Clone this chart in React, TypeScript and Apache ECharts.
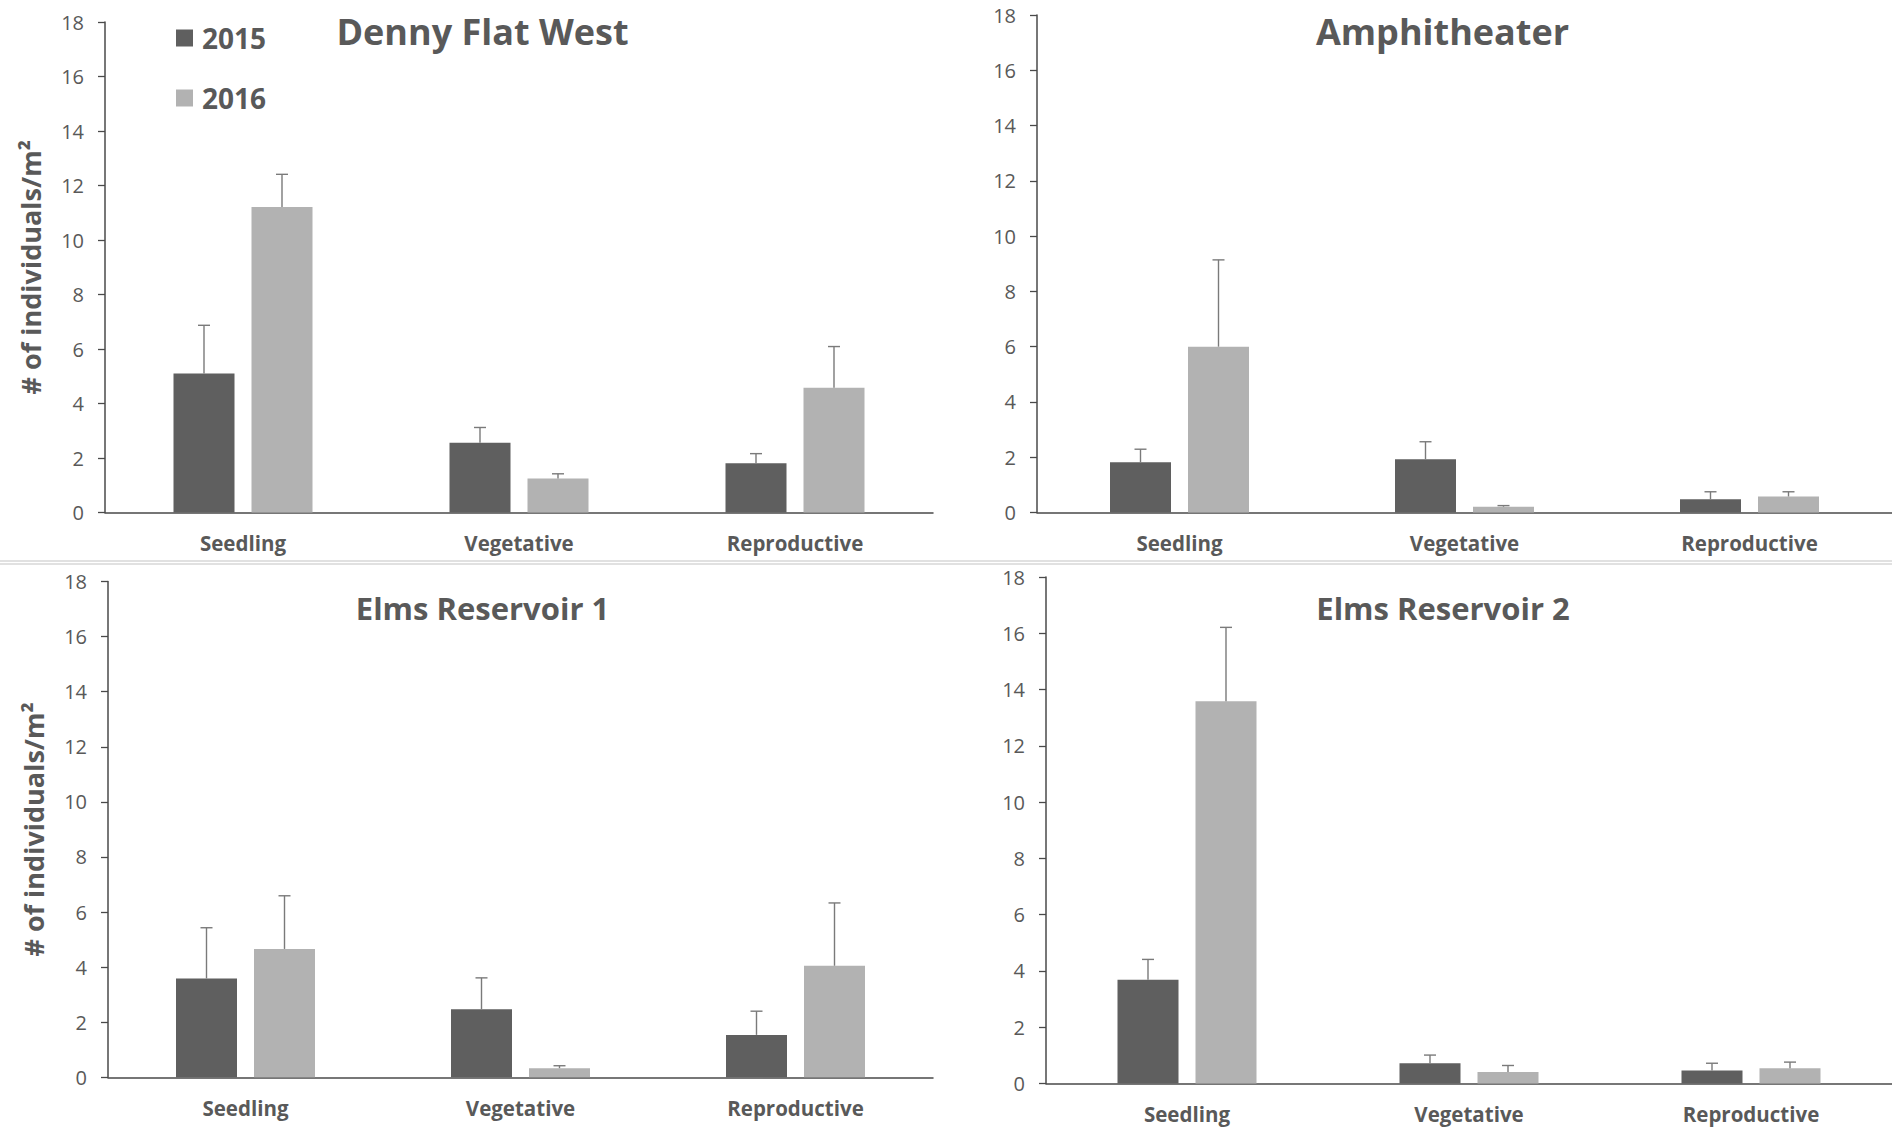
import React, { useEffect, useRef } from "react";
import * as echarts from "echarts";

// ---- data ----
const categories = ["Seedling", "Vegetative", "Reproductive"];
const years = ["2015", "2016"];
const sites = ["Denny Flat West", "Amphitheater", "Elms Reservoir 1", "Elms Reservoir 2"];

// means (# of individuals / m²)
const denny2015 = [5.1, 2.56, 1.81];
const denny2016 = [11.21, 1.25, 4.58];
const amph2015 = [1.82, 1.93, 0.48];
const amph2016 = [6.0, 0.21, 0.58];
const elms1_2015 = [3.59, 2.47, 1.54];
const elms1_2016 = [4.66, 0.33, 4.05];
const elms2_2015 = [3.69, 0.72, 0.46];
const elms2_2016 = [13.58, 0.41, 0.54];

// upper error (SE)
const dennyErr2015 = [1.77, 0.56, 0.35];
const dennyErr2016 = [1.2, 0.17, 1.51];
const amphErr2015 = [0.47, 0.63, 0.27];
const amphErr2016 = [3.14, 0.04, 0.17];
const elms1Err2015 = [1.84, 1.14, 0.86];
const elms1Err2016 = [1.93, 0.09, 2.28];
const elms2Err2015 = [0.72, 0.29, 0.26];
const elms2Err2016 = [2.63, 0.23, 0.22];

const yTicks = { min: 0, max: 18, interval: 2 };

const means = [
  [denny2015, denny2016],
  [amph2015, amph2016],
  [elms1_2015, elms1_2016],
  [elms2_2015, elms2_2016],
];
const errs = [
  [dennyErr2015, dennyErr2016],
  [amphErr2015, amphErr2016],
  [elms1Err2015, elms1Err2016],
  [elms2Err2015, elms2Err2016],
];

// ---- styles ----
const FONT = "Open Sans";
const TEXT = "#595959";
const AXIS = "#4a4a4a";
const COLORS = ["#5f5f5f", "#b2b2b2"];
const BAR_W = 61;
const BAR_GAP = 17;

const grids = [
  { left: 105, top: 22, width: 828, height: 490.5 },
  { left: 1037, top: 15, width: 855, height: 497.5 },
  { left: 108, top: 581.5, width: 825, height: 495.8 },
  { left: 1046, top: 577, width: 846, height: 506.5 },
];
const titlePos = [
  { x: 482.5, y: 31.5, size: 36 },
  { x: 1442.5, y: 31.5, size: 36 },
  { x: 482.5, y: 607.5, size: 31 },
  { x: 1443, y: 607.5, size: 31 },
];
const showYName = [true, false, true, false];

export default function App() {
  const ref = useRef<HTMLDivElement>(null);
  useEffect(() => {
    if (!ref.current) return;
    const chart = echarts.init(ref.current, null, { renderer: "svg" });

    const xAxis = grids.map((_, i) => ({
      type: "category",
      gridIndex: i,
      data: categories,
      axisLine: { lineStyle: { color: AXIS, width: 1.5 } },
      axisTick: { show: false },
      axisLabel: {
        color: TEXT,
        fontFamily: FONT,
        fontWeight: "bold",
        fontSize: 20.5,
        margin: 20,
      },
    }));
    const yAxis = grids.map((_, i) => ({
      type: "value",
      gridIndex: i,
      min: yTicks.min,
      max: yTicks.max,
      interval: yTicks.interval,
      name: showYName[i] ? "# of individuals/m²" : "",
      nameLocation: "middle",
      nameRotate: 90,
      nameGap: 61,
      nameTextStyle: {
        color: TEXT,
        fontFamily: FONT,
        fontWeight: "bold",
        fontSize: 27,
      },
      axisLine: { show: true, lineStyle: { color: AXIS, width: 1.5 } },
      axisTick: { show: true, length: 7, lineStyle: { color: AXIS, width: 1.3 } },
      splitLine: { show: false },
      axisLabel: { color: TEXT, fontFamily: FONT, fontSize: 20, margin: 21 },
    }));

    const series: any[] = [];
    grids.forEach((_, gi) => {
      years.forEach((yr, yi) => {
        series.push({
          type: "bar",
          name: yr,
          xAxisIndex: gi,
          yAxisIndex: gi,
          data: means[gi][yi],
          barWidth: BAR_W,
          barGap: `${(BAR_GAP / BAR_W) * 100}%`,
          itemStyle: { color: COLORS[yi] },
          z: 2,
        });
      });
      years.forEach((yr, yi) => {
        const offset = (yi === 0 ? -1 : 1) * (BAR_W + BAR_GAP) / 2;
        series.push({
          type: "custom",
          name: yr + " error",
          xAxisIndex: gi,
          yAxisIndex: gi,
          z: 3,
          silent: true,
          data: means[gi][yi].map((m, ci) => [ci, m, errs[gi][yi][ci]]),
          renderItem: (params: any, api: any) => {
            const c = api.value(0);
            const m = api.value(1);
            const e = api.value(2);
            const base = api.coord([c, m]);
            const top = api.coord([c, m + e]);
            const cx = base[0] + offset;
            const st = { stroke: "#7a7a7a", lineWidth: 1.4 };
            return {
              type: "group",
              children: [
                { type: "line", shape: { x1: cx, y1: base[1], x2: cx, y2: top[1] }, style: st },
                { type: "line", shape: { x1: cx - 6, y1: top[1], x2: cx + 6, y2: top[1] }, style: st },
              ],
            };
          },
        });
      });
    });

    const graphic: any[] = titlePos.map((t, i) => ({
      type: "text",
      x: t.x,
      y: t.y,
      style: {
        text: sites[i],
        fill: TEXT,
        fontFamily: FONT,
        fontWeight: "bold",
        fontSize: t.size,
        align: "center",
        verticalAlign: "middle",
      },
    }));
    graphic.push(
      { type: "line", shape: { x1: 0, y1: 561, x2: 1892, y2: 561 }, style: { stroke: "#c4c4c4", lineWidth: 1.2 } },
      { type: "line", shape: { x1: 0, y1: 564, x2: 1892, y2: 564 }, style: { stroke: "#c4c4c4", lineWidth: 1.2 } }
    );

    chart.setOption({
      animation: false,
      textStyle: { fontFamily: FONT },
      grid: grids.map((g) => ({ ...g, containLabel: false })),
      xAxis,
      yAxis,
      legend: {
        data: years,
        orient: "vertical",
        left: 171,
        top: 14,
        itemWidth: 17,
        itemHeight: 17,
        itemGap: 22,
        icon: "rect",
        textStyle: {
          color: TEXT,
          fontFamily: FONT,
          fontWeight: "bold",
          fontSize: 28,
          lineHeight: 38,
          padding: [0, 0, 0, 4],
        },
      },
      graphic,
      series,
    });
    return () => chart.dispose();
  }, []);

  return (
    <div
      ref={ref}
      style={{ position: "absolute", left: 0, top: 0, width: 1892, height: 1129, background: "#fff" }}
    />
  );
}
